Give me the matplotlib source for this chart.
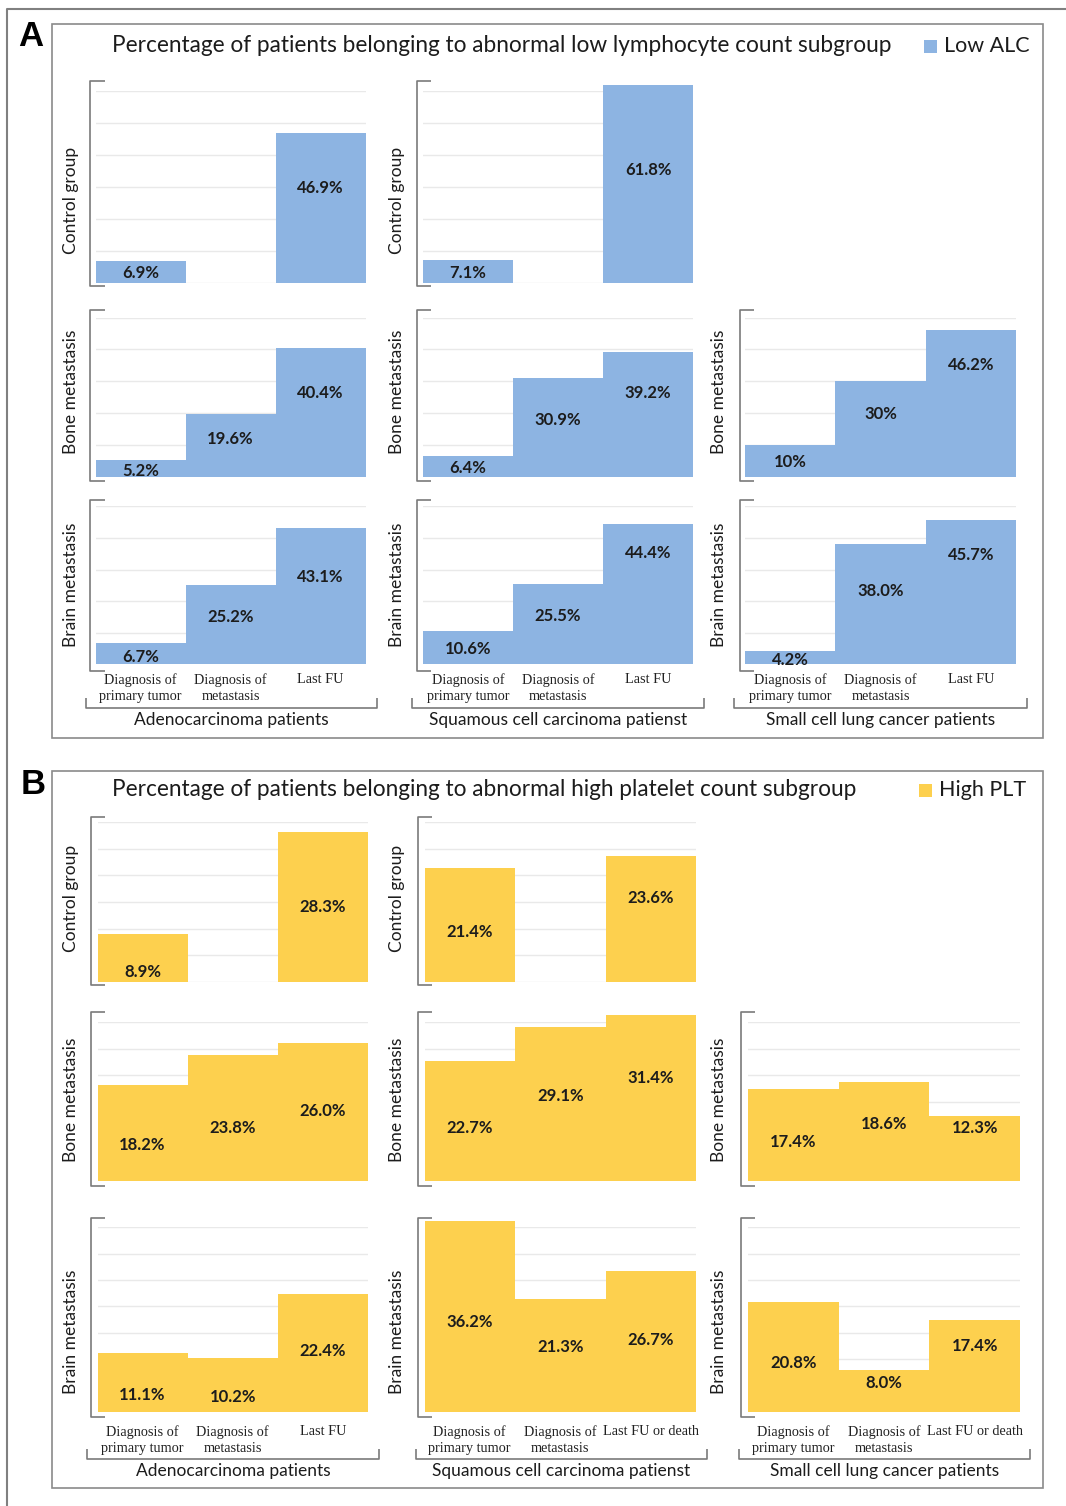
import numpy as np
import matplotlib
matplotlib.use("Agg")
import matplotlib.pyplot as plt
from matplotlib.lines import Line2D
from matplotlib.patches import Rectangle

# ---------------------------------------------------------------- data
timepoints = ["Diagnosis of\nprimary tumor", "Diagnosis of\nmetastasis", "Last FU"]
timepoints_death = ["Diagnosis of\nprimary tumor", "Diagnosis of\nmetastasis", "Last FU or death"]
cohorts = ["Adenocarcinoma patients", "Squamous cell carcinoma patienst",
           "Small cell lung cancer patients"]
sites = ["Control group", "Bone metastasis", "Brain metastasis"]

# Low absolute lymphocyte count (%), None = no value at that time point
alc_control_adeno = [6.9, None, 46.9]
alc_control_squam = [7.1, None, 61.8]
alc_bone_adeno = [5.2, 19.6, 40.4]
alc_bone_squam = [6.4, 30.9, 39.2]
alc_bone_sclc = [10, 30, 46.2]
alc_brain_adeno = [6.7, 25.2, 43.1]
alc_brain_squam = [10.6, 25.5, 44.4]
alc_brain_sclc = [4.2, 38.0, 45.7]

# High platelet count (%)
plt_control_adeno = [8.9, None, 28.3]
plt_control_squam = [21.4, None, 23.6]
plt_bone_adeno = [18.2, 23.8, 26.0]
plt_bone_squam = [22.7, 29.1, 31.4]
plt_bone_sclc = [17.4, 18.6, 12.3]
plt_brain_adeno = [11.1, 10.2, 22.4]
plt_brain_squam = [36.2, 21.3, 26.7]
plt_brain_sclc = [20.8, 8.0, 17.4]

# ---------------------------------------------------------------- style
W, H = 1066, 1506
SANS = ["Lato", "DejaVu Sans"]
SERIF = ["Liberation Serif", "DejaVu Serif"]
BLUE = "#8DB4E2"
GOLD = "#FDD04E"
GRID = "#e9e9e9"
FRAME = "#8a8a8a"
BRACKET = "#7a7a7a"
TXT = "#1c1c1c"

fig = plt.figure(figsize=(W / 100, H / 100), dpi=100)


def fx(x):
    return x / W


def fy(y):
    return 1 - y / H


def fig_line(xs, ys, color=BRACKET, lw=1.2):
    fig.add_artist(Line2D([fx(x) for x in xs], [fy(y) for y in ys],
                          transform=fig.transFigure, color=color, lw=lw,
                          solid_capstyle="butt"))


def fig_text(x, y, s, **kw):
    fig.text(fx(x), fy(y), s, **kw)


def pct(v, fmt):
    return (f"{v:g}" if fmt == "g" else f"{v:.1f}") + "%"


# ---------------------------------------------------------------- layout (pixels)
panels = [
    dict(
        letter="A", box=(52, 24, 1043, 738), letter_xy=(31, 36),
        title="Percentage of patients belonging to abnormal low lymphocyte count subgroup",
        title_xy=(112.5, 46), legend="Low ALC", legend_x=924, legend_y=46,
        color=BLUE,
        rows=[
            dict(base=283, scale=3.2, ngrid=6, step=10, btop=81, bbot=286, ylab=200),
            dict(base=476.5, scale=3.18, ngrid=5, step=10, btop=310, bbot=481, ylab=391.5),
            dict(base=664.3, scale=3.16, ngrid=5, step=10, btop=500, bbot=671, ylab=585),
        ],
        cols=[
            dict(x0=95.5, x1=365.5, bx=90.5, ylx=71),
            dict(x0=423, x1=693, bx=417, ylx=397),
            dict(x0=745, x1=1016, bx=739.5, ylx=719),
        ],
        charts={
            (0, 0): (alc_control_adeno, [0.45, 0, 0.63], "f"),
            (0, 1): (alc_control_squam, [0.44, 0, 0.57], "f"),
            (1, 0): (alc_bone_adeno, [0.33, 0.6, 0.65], "f"),
            (1, 1): (alc_bone_squam, [0.4, 0.58, 0.67], "f"),
            (1, 2): (alc_bone_sclc, [0.47, 0.65, 0.76], "g"),
            (2, 0): (alc_brain_adeno, [0.36, 0.59, 0.64], "f"),
            (2, 1): (alc_brain_squam, [0.46, 0.6, 0.79], "f"),
            (2, 2): (alc_brain_sclc, [0.33, 0.61, 0.76], "f"),
        },
        xlabels=[timepoints, timepoints, timepoints],
        xlab_y=673, group_y=707.7, group_text_y=719.5,
        group_spans=[(85.7, 377.3), (412, 704), (734.3, 1026.7)],
    ),
    dict(
        letter="B", box=(52, 771, 1043, 1488), letter_xy=(33, 784),
        title="Percentage of patients belonging to abnormal high platelet count subgroup",
        title_xy=(112.5, 789), legend="High PLT", legend_x=919, legend_y=790,
        color=GOLD,
        rows=[
            dict(base=981.5, scale=5.3, ngrid=6, step=5, btop=816.7, bbot=985, ylab=898),
            dict(base=1181, scale=5.3, ngrid=6, step=5, btop=1012, bbot=1186, ylab=1100),
            dict(base=1411.7, scale=5.27, ngrid=7, step=5, btop=1218, bbot=1417, ylab=1331.5),
        ],
        cols=[
            dict(x0=97.5, x1=368, bx=91, ylx=71),
            dict(x0=424.5, x1=696, bx=417.5, ylx=397),
            dict(x0=748.3, x1=1020, bx=740.6, ylx=719),
        ],
        charts={
            (0, 0): (plt_control_adeno, [0.21, 0, 0.5], "f"),
            (0, 1): (plt_control_squam, [0.44, 0, 0.67], "f"),
            (1, 0): (plt_bone_adeno, [0.37, 0.42, 0.51], "f"),
            (1, 1): (plt_bone_squam, [0.44, 0.55, 0.62], "f"),
            (1, 2): (plt_bone_sclc, [0.42, 0.58, 0.81], "f"),
            (2, 0): (plt_brain_adeno, [0.28, 0.28, 0.51], "f"),
            (2, 1): (plt_brain_squam, [0.47, 0.58, 0.51], "f"),
            (2, 2): (plt_brain_sclc, [0.44, 0.69, 0.72], "f"),
        },
        xlabels=[timepoints, timepoints_death, timepoints_death],
        xlab_y=1425, group_y=1459, group_text_y=1471,
        group_spans=[(86.7, 379), (415.8, 706.8), (739, 1030)],
    ),
]

# ---------------------------------------------------------------- outer frame
fig_line([7, 7, W], [H, 9, 9], color="#808080", lw=1.5)

for p in panels:
    bx0, by0, bx1, by1 = p["box"]
    fig.add_artist(Rectangle((fx(bx0), fy(by1)), fx(bx1) - fx(bx0), fy(by0) - fy(by1),
                             transform=fig.transFigure, fill=False,
                             edgecolor=FRAME, lw=1.2))
    fig_text(*p["letter_xy"], p["letter"], ha="center", va="center",
             fontsize=25, fontweight="bold", family=["Liberation Sans", "DejaVu Sans"],
             color="black")
    fig_text(*p["title_xy"], p["title"], ha="left", va="center",
             fontsize=16.3, family=SANS, color=TXT)
    # legend
    lx, ly = p["legend_x"], p["legend_y"]
    fig.add_artist(Rectangle((fx(lx), fy(ly + 6.5)), 13 / W, 13 / H,
                             transform=fig.transFigure, facecolor=p["color"],
                             edgecolor="none"))
    fig_text(lx + 20, ly, p["legend"], ha="left", va="center",
             fontsize=15.5, family=SANS, color=TXT)

    for (r, c), (values, fracs, fmt) in p["charts"].items():
        row, col = p["rows"][r], p["cols"][c]
        ymax = row["ngrid"] * row["step"]
        top = row["base"] - ymax * row["scale"]
        ax = fig.add_axes([fx(col["x0"]), fy(row["base"]),
                           fx(col["x1"]) - fx(col["x0"]), fy(top) - fy(row["base"])])
        ax.set_xlim(-0.5, 2.5)
        ax.set_ylim(0, ymax)
        ax.set_yticks(np.arange(0, ymax + row["step"] / 2, row["step"]))
        ax.grid(axis="y", color=GRID, lw=1.0)
        ax.set_axisbelow(True)
        ax.tick_params(length=0, labelleft=False, labelbottom=False)
        for s in ax.spines.values():
            s.set_visible(False)
        ax.patch.set_alpha(0)

        idx = [i for i, v in enumerate(values) if v is not None]
        vals = [values[i] for i in idx]
        bars = ax.bar(idx, vals, width=1.0, color=p["color"], edgecolor="none",
                      linewidth=0)
        for b in bars:
            b.set_clip_on(False)
        for i, v in zip(idx, vals):
            ax.text(i, v * fracs[i], pct(v, fmt), ha="center", va="center",
                    fontsize=12, fontweight="bold", family=SANS, color=TXT,
                    clip_on=False)

        # left bracket of the chart
        bxp = col["bx"]
        fig_line([bxp + 14, bxp, bxp, bxp + 14],
                 [row["btop"], row["btop"], row["bbot"], row["bbot"]])
        # row title
        fig_text(col["ylx"], row["ylab"], sites[r], rotation=90, ha="center",
                 va="center", fontsize=12.5, family=SANS, color=TXT)

        # time point labels and cohort bracket under the last row
        if r == 2:
            for i, lab in enumerate(p["xlabels"][c]):
                xc = col["x0"] + (i + 0.5) * (col["x1"] - col["x0"]) / 3
                fig_text(xc, p["xlab_y"], lab, ha="center", va="top",
                         fontsize=10.3, family=SERIF, color="#222222",
                         linespacing=1.3)
            gx0, gx1 = p["group_spans"][c]
            gy = p["group_y"]
            fig_line([gx0, gx0, gx1, gx1], [gy - 10, gy, gy, gy - 10])
            fig_text((gx0 + gx1) / 2, p["group_text_y"], cohorts[c], ha="center",
                     va="center", fontsize=12.5, family=SANS, color=TXT)

fig.savefig("out.png", dpi=100)
